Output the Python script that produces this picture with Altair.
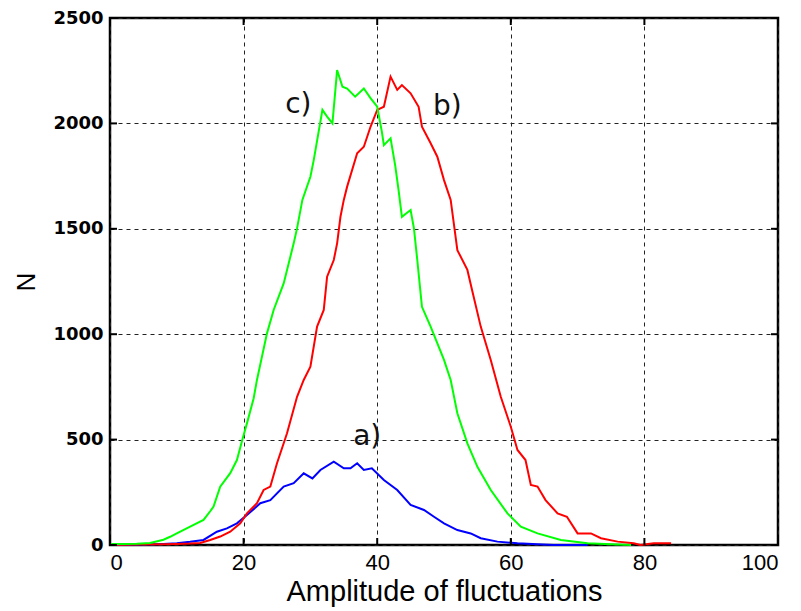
import altair as alt
import pandas as pd

# Curve a) blue
a_x = [0, 5, 8, 10, 12, 14, 16, 17.5, 19, 20.5, 22.5, 24, 26, 27.5, 29, 30.3, 31.5, 33.5, 35, 36, 37, 38, 39.2, 41, 43, 45, 47, 48.5, 50, 52, 54, 55.5, 58, 61, 64, 66.4, 71.5]
a_n = [0, 2, 5, 8, 15, 24, 63, 79, 103, 142, 198, 213, 277, 293, 340, 316, 356, 395, 364, 364, 388, 356, 364, 308, 261, 190, 166, 134, 103, 71, 55, 32, 16, 8, 3, 0, 0]

# Curve b) red
b_x = [0, 4, 8, 10, 12, 13.5, 15, 16.5, 18, 19.5, 20.5, 22, 23, 24, 25, 26.5, 28, 29, 30, 31, 32, 32.5, 33.5, 34, 34.5, 35, 35.5, 37, 38, 39, 40, 41, 42, 43, 43.7, 45, 46.2, 46.7, 48, 49, 50, 51, 52, 53.5, 54.2, 55.5, 57, 58.5, 60, 61, 62.2, 63, 64, 65.2, 67, 68.4, 70, 72, 73.5, 76, 78.4, 79.4, 81.4, 84]
b_n = [0, 2, 4, 5, 7, 10, 24, 40, 63, 103, 150, 198, 261, 277, 388, 530, 703, 783, 846, 1036, 1115, 1273, 1352, 1431, 1557, 1637, 1700, 1858, 1889, 1984, 2064, 2079, 2222, 2159, 2182, 2143, 2079, 1984, 1906, 1842, 1731, 1637, 1399, 1305, 1210, 1036, 878, 703, 561, 451, 403, 285, 277, 213, 150, 134, 55, 55, 32, 16, 8, 0, 8, 8]

# Curve c) green
c_x = [0, 2, 4, 6, 8, 9, 10, 12, 14, 15, 15.5, 16.5, 18, 19, 19.8, 20.5, 21.5, 22, 23.5, 24.5, 26, 27.5, 28, 28.8, 30, 30.5, 31.8, 32.5, 33.3, 34, 34.8, 35.5, 36.7, 38, 39, 40, 40.7, 41, 42, 42.7, 43.2, 43.7, 45, 45.5, 46, 46.7, 48, 50, 51, 52, 53.5, 55, 57, 59.5, 61.5, 64, 67.5, 71.5, 75, 78]
c_n = [5, 5, 6, 10, 25, 39, 55, 87, 119, 160, 182, 277, 341, 403, 498, 577, 695, 783, 1004, 1115, 1241, 1431, 1502, 1637, 1747, 1826, 2064, 2032, 2000, 2253, 2174, 2165, 2127, 2166, 2120, 2079, 1960, 1897, 1929, 1800, 1684, 1557, 1589, 1502, 1352, 1130, 1036, 878, 783, 625, 482, 371, 261, 150, 87, 55, 24, 8, 3, 0]

label_text = ["c)", "b)", "a)"]
label_x = [28.2, 50.5, 38.5]
label_n = [2087, 2078, 512]

x_ticks = [0, 20, 40, 60, 80, 100]
y_ticks = [0, 500, 1000, 1500, 2000, 2500]

rows = []
for name, xs, ns in [("a", a_x, a_n), ("b", b_x, b_n), ("c", c_x, c_n)]:
    for i, (x, n) in enumerate(zip(xs, ns)):
        rows.append({"series": name, "x": x, "n": n, "order": i})
df = pd.DataFrame(rows)
labels = pd.DataFrame({"t": label_text, "x": label_x, "n": label_n})

xscale = alt.Scale(domain=[0, 100], nice=False)
yscale = alt.Scale(domain=[0, 2500], nice=False)

lines = alt.Chart(df).mark_line(strokeWidth=2).encode(
    x=alt.X("x:Q", scale=xscale,
            axis=alt.Axis(values=x_ticks, title="Amplitude of fluctuations", format="d")),
    y=alt.Y("n:Q", scale=yscale,
            axis=alt.Axis(values=y_ticks, title="N", format="d")),
    color=alt.Color("series:N", scale=alt.Scale(domain=["a", "b", "c"],
                                                range=["#0000ff", "#ff0000", "#00ff00"]),
                    legend=None),
    order="order:Q",
)

text = alt.Chart(labels).mark_text(font="DejaVu Sans", fontSize=28, color="#111").encode(
    x=alt.X("x:Q", scale=xscale),
    y=alt.Y("n:Q", scale=yscale),
    text="t:N",
)

xt = pd.DataFrame({"v": x_ticks})
yt = pd.DataFrame({"v": y_ticks})
tick_bottom = alt.Chart(xt).mark_rule(color="black", strokeWidth=2).encode(
    x=alt.X("v:Q", scale=xscale), y=alt.value(527), y2=alt.value(520))
tick_top = alt.Chart(xt).mark_rule(color="black", strokeWidth=2).encode(
    x=alt.X("v:Q", scale=xscale), y=alt.value(0), y2=alt.value(7))
tick_left = alt.Chart(yt).mark_rule(color="black", strokeWidth=2).encode(
    y=alt.Y("v:Q", scale=yscale), x=alt.value(0), x2=alt.value(7))
tick_right = alt.Chart(yt).mark_rule(color="black", strokeWidth=2).encode(
    y=alt.Y("v:Q", scale=yscale), x=alt.value(668), x2=alt.value(661))

chart = alt.layer(lines, text, tick_bottom, tick_top, tick_left, tick_right).properties(
    width=668, height=527,
    autosize=alt.AutoSizeParams(type="none"),
    padding={"left": 102, "top": 10, "right": 15, "bottom": 66},
).configure_view(
    stroke="black", strokeWidth=2.5
).configure_axis(
    grid=True, gridColor="#222", gridDash=[4, 4], gridWidth=1, gridOpacity=1,
    domain=False, ticks=False,
    labelColor="black",
    titleFont="Liberation Sans", titleFontWeight="normal", titleColor="black",
).configure_axisY(
    labelFont="DejaVu Sans", labelFontSize=18, labelFontWeight="bold",
    labelPadding=7, titlePadding=13, titleFontSize=26,
).configure_axisX(
    labelFont="Liberation Sans", labelFontSize=22, labelFontWeight="normal",
    labelPadding=7, titlePadding=4, titleFontSize=29,
)

chart.save("out.html", embed_options={"renderer": "svg", "actions": False})
